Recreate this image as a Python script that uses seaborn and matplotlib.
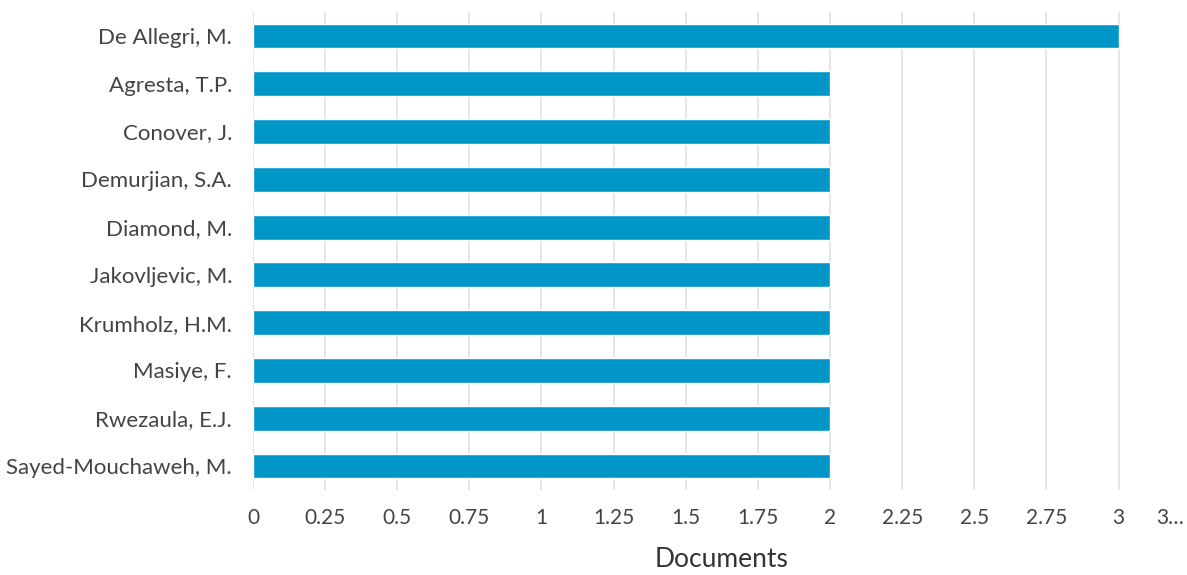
import matplotlib
matplotlib.use("Agg")

import matplotlib.pyplot as plt
import matplotlib.transforms as mtransforms
import pandas as pd
import seaborn as sns

authors = [
    "De Allegri, M.",
    "Agresta, T.P.",
    "Conover, J.",
    "Demurjian, S.A.",
    "Diamond, M.",
    "Jakovljevic, M.",
    "Krumholz, H.M.",
    "Masiye, F.",
    "Rwezaula, E.J.",
    "Sayed-Mouchaweh, M.",
]
documents = [3, 2, 2, 2, 2, 2, 2, 2, 2, 2]
x_ticks = [0, 0.25, 0.5, 0.75, 1, 1.25, 1.5, 1.75, 2, 2.25, 2.5, 2.75, 3, 3.25]
x_tick_labels = ["0", "0.25", "0.5", "0.75", "1", "1.25", "1.5", "1.75", "2",
                 "2.25", "2.5", "2.75", "3", "3…"]

df = pd.DataFrame({"author": authors, "documents": documents})

sns.set_theme(style="white")
plt.rcParams["font.family"] = ["Lato", "DejaVu Sans"]

fig = plt.figure(figsize=(11.87, 5.75), dpi=100)
ax = fig.add_axes([0.2131, 0.148, 0.790, 0.831])

sns.barplot(data=df, x="documents", y="author", orient="h", color="#0097c8",
            width=0.52, saturation=1, ax=ax, zorder=3)

ax.set_xlim(0, 3.25)
ax.set_ylim(9.5, -0.5)
ax.set_xticks(x_ticks)
ax.set_xticklabels(x_tick_labels)
ax.xaxis.grid(True, color="#e2e2e2", linewidth=1.2, zorder=0)
ax.yaxis.grid(False)
for s in ax.spines.values():
    s.set_visible(False)

ax.tick_params(axis="x", length=0, pad=13, labelsize=15, labelcolor="#444444")
ax.tick_params(axis="y", length=0, pad=15, labelsize=16, labelcolor="#444444")

# last tick label is truncated at the right edge, nudge it inside
last = ax.get_xticklabels()[-1]
last.set_horizontalalignment("right")
last.set_transform(last.get_transform() +
                   mtransforms.ScaledTranslation(-5 / 72, 0, fig.dpi_scale_trans))

ax.set_ylabel("")
ax.set_xlabel("Documents", fontsize=19, color="#333333", labelpad=14)

fig.savefig("out.png", dpi=100)
